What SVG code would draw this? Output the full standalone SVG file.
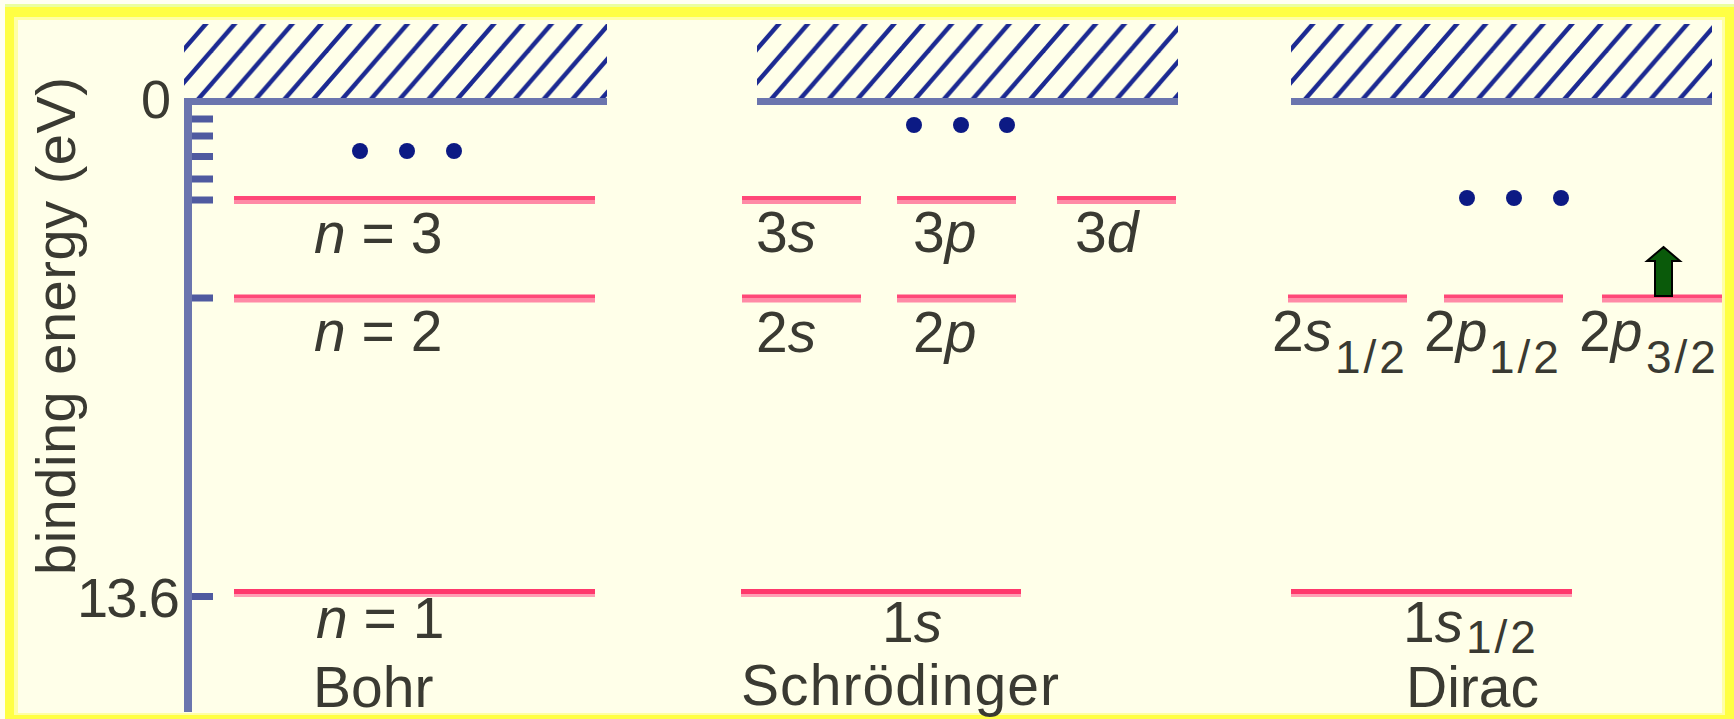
<svg xmlns="http://www.w3.org/2000/svg" width="1734" height="719" viewBox="0 0 1734 719">
  <defs>
    <style>
      .txt { font-family: "Liberation Sans", Arial, sans-serif; fill: #3a3a32; }
      .main { font-size: 57px; }
      .sub { font-size: 46px; letter-spacing: 3px; }
      .it { font-style: italic; }
      .axis { fill: #6b75ae; }
      .tick { fill: #4f5aa0; }
      .dot { fill: #0c1a84; }
      .lvl { fill: url(#lvlGrad); }
      .gnd { fill: url(#gndGrad); }
    </style>
    <linearGradient id="lvlGrad" x1="0" y1="0" x2="0" y2="1">
      <stop offset="0" stop-color="#ff4878"/>
      <stop offset="0.5" stop-color="#ff4878"/>
      <stop offset="0.5" stop-color="#ff8aa6"/>
      <stop offset="1" stop-color="#ff8aa6"/>
    </linearGradient>
    <linearGradient id="gndGrad" x1="0" y1="0" x2="0" y2="1">
      <stop offset="0" stop-color="#ff386c"/>
      <stop offset="0.6" stop-color="#ff386c"/>
      <stop offset="0.6" stop-color="#ff9fb4"/>
      <stop offset="1" stop-color="#ff9fb4"/>
    </linearGradient>
    <!-- continuum hatching: "/" strokes, 28.8 px apart horizontally -->
    <pattern id="hatch" patternUnits="userSpaceOnUse" width="28.8" height="77">
      <g stroke="#1c2a92" stroke-width="4.5" stroke-linecap="butt">
        <line x1="-76.4" y1="80" x2="-4.4" y2="-3"/>
        <line x1="-47.6" y1="80" x2="24.4" y2="-3"/>
        <line x1="-18.8" y1="80" x2="53.2" y2="-3"/>
        <line x1="10" y1="80" x2="82" y2="-3"/>
      </g>
    </pattern>
  </defs>

  <!-- frame -->
  <rect x="0" y="0" width="1734" height="719" fill="#fffff2"/>
  <rect x="5" y="4" width="1729" height="3" fill="#eaffa0"/>
  <rect x="5" y="7" width="1729" height="712" fill="#ffff44"/>
  <rect x="14" y="17" width="1711" height="698" fill="#ffffa6"/>
  <rect x="18" y="20" width="1704" height="693" fill="#ffffe9"/>

  <!-- energy axis -->
  <g id="axis">
    <rect class="axis" x="184" y="98" width="8" height="614"/>
    <rect class="tick" x="192" y="115.5" width="21" height="7"/>
    <rect class="tick" x="192" y="132.5" width="21" height="7"/>
    <rect class="tick" x="192" y="153" width="21" height="7"/>
    <rect class="tick" x="192" y="175.5" width="21" height="7"/>
    <rect class="tick" x="192" y="196.5" width="21" height="7"/>
    <rect class="tick" x="192" y="294.5" width="21" height="7"/>
    <rect class="tick" x="192" y="593" width="21" height="7"/>
    <text class="txt" x="156" y="118" font-size="54" text-anchor="middle">0</text>
    <text class="txt" x="180" y="617" font-size="56" text-anchor="end" textLength="103" lengthAdjust="spacing">13.6</text>
    <text class="txt" font-size="56" transform="translate(75 575) rotate(-90)" textLength="498" lengthAdjust="spacing">binding energy (eV)</text>
  </g>

  <!-- Bohr column -->
  <g id="bohr">
    <g transform="translate(184 24)">
      <rect x="0" y="0" width="423" height="77" fill="url(#hatch)"/>
    </g>
    <rect class="axis" x="184" y="98" width="423" height="7"/>
    <circle class="dot" cx="360" cy="151" r="8"/>
    <circle class="dot" cx="407" cy="151" r="8"/>
    <circle class="dot" cx="454" cy="151" r="8"/>
    <rect class="lvl" x="234" y="196" width="361" height="8"/>
    <rect class="lvl" x="234" y="294.5" width="361" height="8"/>
    <rect class="gnd" x="234" y="589" width="361" height="8"/>
    <text class="txt main" x="314" y="253" xml:space="preserve"><tspan class="it">n</tspan> = 3</text>
    <text class="txt main" x="314" y="351" xml:space="preserve"><tspan class="it">n</tspan> = 2</text>
    <text class="txt main" x="316" y="638" xml:space="preserve"><tspan class="it">n</tspan> = 1</text>
    <text class="txt main" x="313" y="707">Bohr</text>
  </g>

  <!-- Schrödinger column -->
  <g id="schroedinger">
    <g transform="translate(757 24)">
      <rect x="0" y="0" width="421" height="77" fill="url(#hatch)"/>
    </g>
    <rect class="axis" x="757" y="98" width="421" height="7"/>
    <circle class="dot" cx="914" cy="125" r="8"/>
    <circle class="dot" cx="961" cy="125" r="8"/>
    <circle class="dot" cx="1007" cy="125" r="8"/>
    <rect class="lvl" x="742" y="196" width="119" height="8"/>
    <rect class="lvl" x="897" y="196" width="119" height="8"/>
    <rect class="lvl" x="1057" y="196" width="119" height="8"/>
    <rect class="lvl" x="742" y="294.5" width="119" height="8"/>
    <rect class="lvl" x="897" y="294.5" width="119" height="8"/>
    <rect class="gnd" x="741" y="589" width="280" height="8"/>
    <text class="txt main" x="756" y="252">3<tspan class="it">s</tspan></text>
    <text class="txt main" x="913" y="252">3<tspan class="it">p</tspan></text>
    <text class="txt main" x="1075" y="252">3<tspan class="it">d</tspan></text>
    <text class="txt main" x="756" y="352">2<tspan class="it">s</tspan></text>
    <text class="txt main" x="913" y="352">2<tspan class="it">p</tspan></text>
    <text class="txt main" x="882" y="642">1<tspan class="it">s</tspan></text>
    <text class="txt main" x="741" y="705" textLength="318" lengthAdjust="spacing">Schrödinger</text>
  </g>

  <!-- Dirac column -->
  <g id="dirac">
    <g transform="translate(1291 24)">
      <rect x="0" y="0" width="421" height="77" fill="url(#hatch)"/>
    </g>
    <rect class="axis" x="1291" y="98" width="421" height="7"/>
    <circle class="dot" cx="1467" cy="198" r="8"/>
    <circle class="dot" cx="1514" cy="198" r="8"/>
    <circle class="dot" cx="1561" cy="198" r="8"/>
    <rect class="lvl" x="1288" y="294.5" width="119" height="8"/>
    <rect class="lvl" x="1444" y="294.5" width="119" height="8"/>
    <rect class="lvl" x="1602" y="294.5" width="120" height="8"/>
    <rect class="gnd" x="1291" y="589" width="281" height="8"/>
    <text class="txt main" x="1272" y="351">2<tspan class="it">s</tspan></text>
    <text class="txt sub" x="1335" y="373">1/2</text>
    <text class="txt main" x="1424" y="351">2<tspan class="it">p</tspan></text>
    <text class="txt sub" x="1489" y="373">1/2</text>
    <text class="txt main" x="1579" y="351">2<tspan class="it">p</tspan></text>
    <text class="txt sub" x="1646" y="373">3/2</text>
    <text class="txt main" x="1403" y="642">1<tspan class="it">s</tspan></text>
    <text class="txt sub" x="1466" y="653">1/2</text>
    <text class="txt main" x="1406" y="707">Dirac</text>
    <polygon points="1663.5,247 1680,261 1672,261 1672,296 1655,296 1655,261 1647,261" fill="#0a5a0a" stroke="#000" stroke-width="2" stroke-linejoin="miter"/>
  </g>
</svg>
